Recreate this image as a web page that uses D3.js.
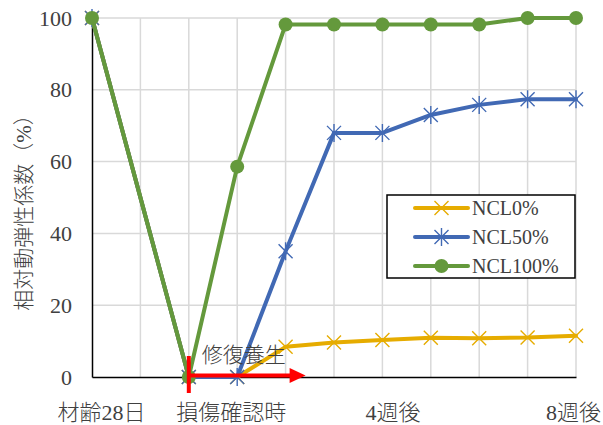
<!DOCTYPE html>
<html>
<head>
<meta charset="utf-8">
<script src="https://cdn.jsdelivr.net/npm/d3@7"></script>
<style>
  html, body { margin: 0; padding: 0; background: #fff; }
  svg { display: block; }
  text { font-family: "Liberation Serif", "Noto Sans CJK JP", serif; fill: #404040; }
  .jp { font-weight: 300; }
</style>
</head>
<body>
<svg id="chart" width="603" height="425"></svg>
<script>
// Measurement points along the curing timeline (index 1 has no measurement)
const categories = ["材齢28日", "", "損傷確認時", "", "", "", "4週後", "", "", "", "8週後"];
// Relative dynamic modulus of elasticity (%) for each mix
const ncl0   = [100, null, 0, 0, 8.4, 9.6, 10.3, 10.9, 10.8, 11.0, 11.5];
const ncl50  = [100, null, 0, 0, 35.0, 68.0, 68.0, 73.0, 75.8, 77.4, 77.4];
const ncl100 = [100, null, 0, 58.6, 98.2, 98.2, 98.2, 98.2, 98.2, 100, 100];
const seriesNames = ["NCL0%", "NCL50%", "NCL100%"];
const yTicks = [0, 20, 40, 60, 80, 100];
const annotation = "修復養生";
const yTitle = "相対動弾性係数（%）";

const FONT = '"Liberation Serif", "Noto Sans CJK JP", serif';
const W = 603, H = 425;
const margin = { top: 18, right: 27, bottom: 48, left: 92 };
const svg = d3.select("#chart").attr("font-family", FONT);

const x = d3.scalePoint().domain(d3.range(categories.length))
  .range([margin.left, W - margin.right]).padding(0);
const y = d3.scaleLinear().domain([0, 100]).range([H - margin.bottom, margin.top]);

const colors = ["#E6AC00", "#4169B4", "#64993C"];
const markers = ["x", "star", "circle"];
const allSeries = [ncl0, ncl50, ncl100];

// gridlines
const grid = svg.append("g").attr("stroke", "#d9d9d9").attr("stroke-width", 1.5);
grid.selectAll("line.h").data(yTicks.filter(d => d > 0)).join("line")
  .attr("x1", x(0)).attr("x2", x(categories.length - 1))
  .attr("y1", d => y(d)).attr("y2", d => y(d));
grid.selectAll("line.v").data(d3.range(1, categories.length)).join("line")
  .attr("x1", d => x(d)).attr("x2", d => x(d))
  .attr("y1", y(0)).attr("y2", y(100));

// axes
const yAxis = svg.append("g").attr("transform", `translate(${margin.left},0)`)
  .call(d3.axisLeft(y).tickValues(yTicks).tickSize(0).tickPadding(20))
  .attr("font-family", FONT);
yAxis.select(".domain").attr("stroke", "#000").attr("stroke-width", 1.5);
yAxis.selectAll("text").attr("font-size", 22).style("fill", "#404040");

const labelShift = { 0: 9, 2: 42, 6: 10, 10: -3 };
const xAxis = svg.append("g").attr("transform", `translate(0,${y(0)})`)
  .call(d3.axisBottom(x).tickFormat(i => categories[i]).tickSize(0).tickPadding(27))
  .attr("font-family", FONT);
xAxis.select(".domain").attr("stroke", "#000").attr("stroke-width", 1.5);
xAxis.selectAll("text").attr("font-size", 22).attr("class", "jp")
  .attr("dx", i => labelShift[i] || 0).style("fill", "#404040");

// axis title
svg.append("text").attr("class", "jp")
  .attr("transform", `translate(31,${(y(0) + y(100)) / 2 + 10}) rotate(-90)`)
  .attr("text-anchor", "middle").attr("font-size", 21)
  .text(yTitle);

// marker drawing
function drawMarker(g, type, color) {
  if (type === "circle") {
    g.append("circle").attr("r", 7).attr("fill", color);
  } else if (type === "x") {
    g.append("path").attr("d", "M-7,-7L7,7M-7,7L7,-7")
      .attr("stroke", color).attr("stroke-width", 1.4).attr("fill", "none");
  } else {
    g.append("path").attr("d", "M-7,-7L7,7M-7,7L7,-7M0,-9L0,9")
      .attr("stroke", color).attr("stroke-width", 1.4).attr("fill", "none");
  }
}

const line = d3.line().x(d => x(d.i)).y(d => y(d.v));

allSeries.forEach((vals, s) => {
  const pts = vals.map((v, i) => ({ i, v })).filter(d => d.v !== null);
  const g = svg.append("g");
  g.append("path").datum(pts).attr("d", line)
    .attr("fill", "none").attr("stroke", colors[s]).attr("stroke-width", 4)
    .attr("stroke-linejoin", "round").attr("stroke-linecap", "round");
  pts.forEach(p => {
    const m = g.append("g").attr("transform", `translate(${x(p.i)},${y(p.v)})`);
    drawMarker(m, markers[s], colors[s]);
  });
});

// repair curing arrow
const red = "#FF0000";
const arrowY = y(0) - 1.5;
const arrowEnd = x(4) + 20;
svg.append("line").attr("x1", x(2)).attr("x2", x(2))
  .attr("y1", y(0) - 21).attr("y2", y(0) + 16)
  .attr("stroke", red).attr("stroke-width", 4);
svg.append("line").attr("x1", x(2)).attr("x2", arrowEnd - 14)
  .attr("y1", arrowY).attr("y2", arrowY)
  .attr("stroke", red).attr("stroke-width", 4);
svg.append("path")
  .attr("d", `M${arrowEnd - 16},${arrowY - 7.5}L${arrowEnd},${arrowY}L${arrowEnd - 16},${arrowY + 7.5}Z`)
  .attr("fill", red);
svg.append("text").attr("class", "jp")
  .attr("x", x(2) + 13).attr("y", y(0) - 15)
  .attr("font-size", 21).text(annotation);

// legend
const lg = svg.append("g");
lg.append("rect").attr("x", 387).attr("y", 195).attr("width", 188).attr("height", 83)
  .attr("fill", "#fff").attr("stroke", "#000").attr("stroke-width", 1.5);
seriesNames.forEach((name, s) => {
  const ry = 208 + s * 29;
  lg.append("line").attr("x1", 415).attr("x2", 468).attr("y1", ry).attr("y2", ry)
    .attr("stroke", colors[s]).attr("stroke-width", 4).attr("stroke-linecap", "round");
  drawMarker(lg.append("g").attr("transform", `translate(441.5,${ry})`), markers[s], colors[s]);
  lg.append("text").attr("x", 472).attr("y", ry).attr("dy", "0.35em")
    .attr("font-size", 20).text(name);
});
</script>
</body>
</html>
